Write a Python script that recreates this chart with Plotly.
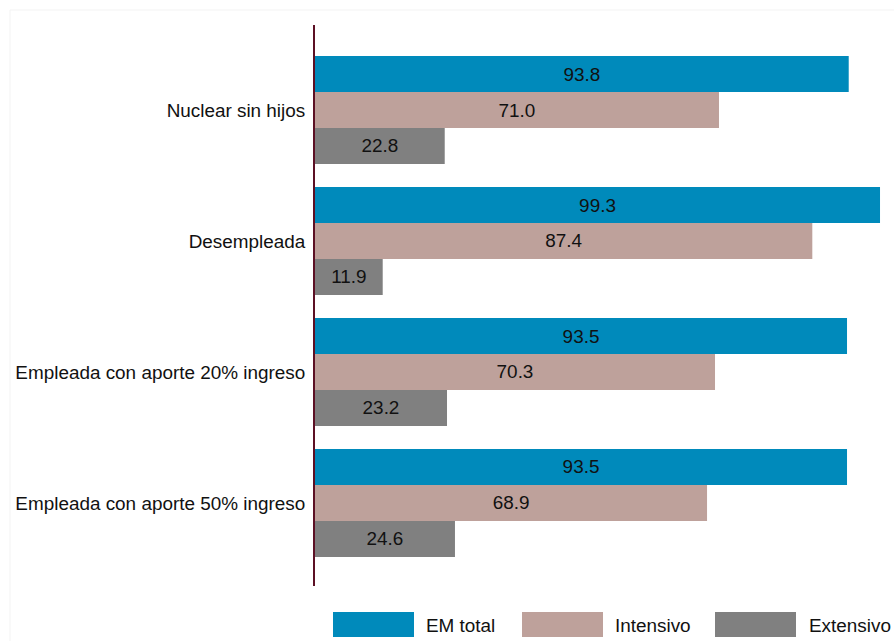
import plotly.graph_objects as go

categories = ["Nuclear sin hijos", "Desempleada", "Empleada con aporte 20% ingreso", "Empleada con aporte 50% ingreso"]
series_names = ["EM total", "Intensivo", "Extensivo"]
em_total = [93.8, 99.3, 93.5, 93.5]
intensivo = [71.0, 87.4, 70.3, 68.9]
extensivo = [22.8, 11.9, 23.2, 24.6]
colors = ["#008abb", "#bea19b", "#808080"]

W, H = 894, 641
L, R, T, B = 315, 10, 25, 55
FONT = "Liberation Sans, Arial, sans-serif"
FS = 18.9

fig = go.Figure()
for name, vals, col in zip(series_names, [em_total, intensivo, extensivo], colors):
    fig.add_trace(go.Bar(
        y=categories, x=vals, name=name, orientation="h",
        marker=dict(color=col, line=dict(width=0)),
        texttemplate="%{x:.1f}", textposition="inside", insidetextanchor="middle",
        textfont=dict(family=FONT, size=FS, color="#111111"),
        constraintext="none", showlegend=False,
    ))

pw, ph = W - L - R, H - T - B

def px(x):
    return (x - L) / pw

def py(y):
    return (H - B - y) / ph

shapes = [dict(type="rect", xref="paper", yref="paper",
               x0=px(10), x1=px(900), y0=py(650), y1=py(10),
               line=dict(color="#f3f3f3", width=1), fillcolor="rgba(0,0,0,0)", layer="below")]
annotations = []
legend_items = [(333, 414, 424), (522, 603, 613), (715, 796, 807)]
for (x0, x1, tx), name, col in zip(legend_items, series_names, colors):
    shapes.append(dict(type="rect", xref="paper", yref="paper",
                       x0=px(x0), x1=px(x1), y0=py(637), y1=py(612),
                       line=dict(width=0), fillcolor=col))
    annotations.append(dict(xref="paper", yref="paper", x=px(tx), y=py(625),
                            text=name, showarrow=False, xanchor="left", yanchor="middle",
                            font=dict(family=FONT, size=FS, color="#111111")))

fig.update_layout(
    width=W, height=H,
    margin=dict(l=L, r=R, t=T, b=B),
    paper_bgcolor="white", plot_bgcolor="white",
    barmode="group", bargap=0.176, bargroupgap=0,
    font=dict(family=FONT, size=FS, color="#111111"),
    xaxis=dict(range=[0, 100], showgrid=False, zeroline=False, showline=False,
               showticklabels=False, ticks=""),
    yaxis=dict(type="category", categoryorder="array", categoryarray=categories,
               range=[3.634, -0.649], showgrid=False, zeroline=False,
               showline=True, linecolor="#5c1024", linewidth=2,
               ticks="", ticklabelstandoff=4,
               tickfont=dict(family=FONT, size=FS, color="#111111")),
    shapes=shapes, annotations=annotations,
)

fig.write_html("out.html", config={"displayModeBar": False},
               post_script="document.body.style.margin='0';document.body.style.overflow='hidden';")
